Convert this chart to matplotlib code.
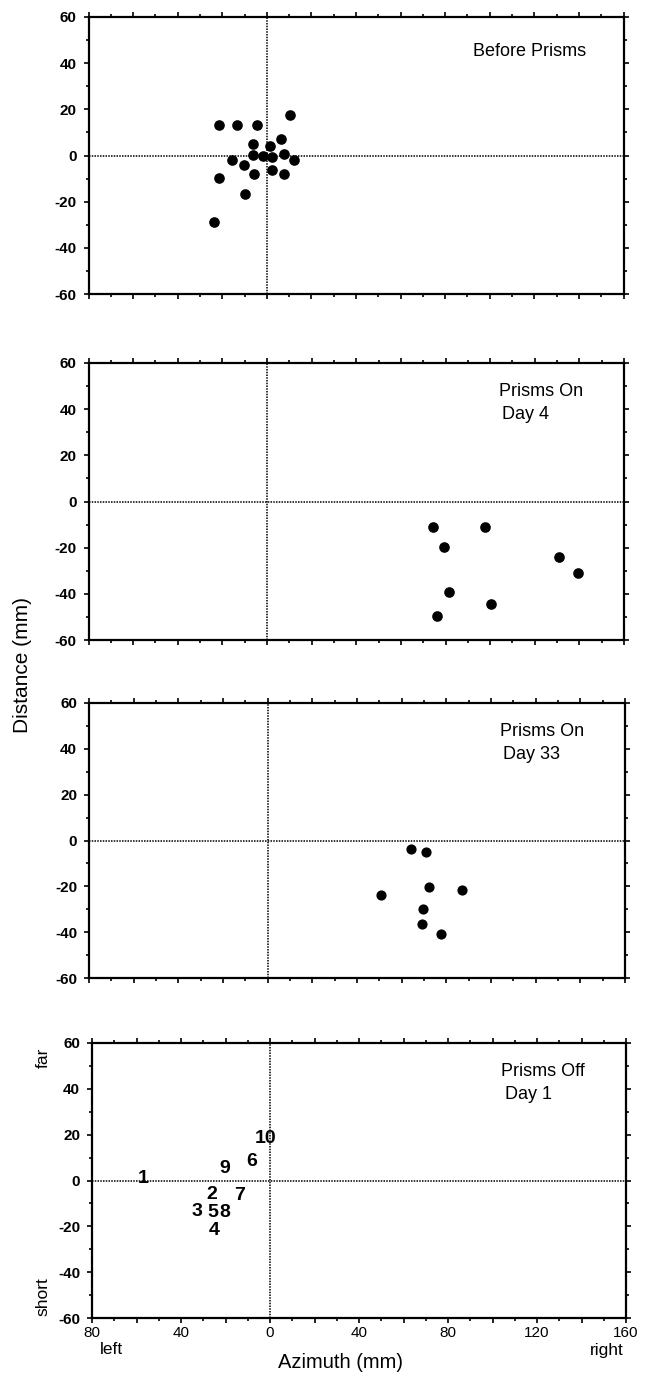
import matplotlib
matplotlib.use('Agg')
import matplotlib.pyplot as plt
from matplotlib.ticker import MultipleLocator, FuncFormatter

plt.rcParams['font.family'] = ['Liberation Sans', 'DejaVu Sans']
plt.rcParams['axes.unicode_minus'] = False

# azimuth: negative = left, positive = right (mm); distance in mm
before_x = [-21.3, -13.2, -4.6, 10.3, 6.2, -6.4, 1.6, -6.4, -1.6, 2.5,
            7.7, -15.8, 12.2, -10.4, -5.7, 2.2, 7.7, -21.3, -9.8, -23.8]
before_y = [13.0, 13.0, 13.0, 17.7, 7.2, 5.1, 4.3, 0.4, 0.0, -0.6,
            0.7, -2.0, -2.0, -4.3, -8.2, -6.3, -8.2, -9.7, -16.7, -28.9]

day4_x = [74.2, 97.8, 79.5, 130.8, 139.6, 81.6, 100.3, 76.0]
day4_y = [-11.1, -11.1, -19.5, -24.2, -31.1, -39.3, -44.2, -49.7]

day33_x = [64.0, 70.8, 72.1, 87.1, 50.6, 69.7, 69.0, 77.8]
day33_y = [-3.6, -4.9, -20.3, -21.6, -23.6, -29.7, -36.3, -41.0]

off_labels = ['1', '2', '3', '4', '5', '6', '7', '8', '9', '10']
off_x = [-56.9, -26.2, -33.0, -25.0, -25.6, -8.2, -13.5, -20.5, -20.2, -2.2]
off_y = [1.0, -5.9, -13.6, -22.0, -13.9, 8.3, -6.6, -13.9, 5.4, 18.3]

W, H = 649, 1375
fig = plt.figure(figsize=(W / 100, H / 100), dpi=100)

# panel boxes in pixels: left, top, right, bottom
boxes = [(88.5, 17, 623.5, 294),
         (88.5, 363, 624, 640),
         (89, 703, 625, 978),
         (92, 1043, 626, 1318)]

axes = []
for (l, t, r, b) in boxes:
    ax = fig.add_axes([l / W, 1 - b / H, (r - l) / W, (b - t) / H])
    ax.set_xlim(-80, 160)
    ax.set_ylim(-60, 60)
    ax.axhline(0, color='black', lw=1.1, ls=(0, (1, 0.8)), zorder=1)
    ax.axvline(0, color='black', lw=1.1, ls=(0, (1, 0.8)), zorder=1)
    ax.xaxis.set_major_locator(MultipleLocator(20))
    ax.xaxis.set_minor_locator(MultipleLocator(10))
    ax.yaxis.set_major_locator(MultipleLocator(20))
    ax.yaxis.set_minor_locator(MultipleLocator(10))
    ax.tick_params(which='both', direction='out', top=True, right=True,
                   width=1.2, labelsize=11)
    ax.tick_params(which='major', length=3.6)
    ax.tick_params(which='minor', length=2.4)
    ax.tick_params(axis='y', pad=5)
    ax.tick_params(axis='x', pad=2.5)
    for s in ax.spines.values():
        s.set_linewidth(1.6)
    for lab in ax.get_yticklabels():
        lab.set_fontweight('bold')
    axes.append(ax)

ax1, ax2, ax3, ax4 = axes
for ax in (ax1, ax2, ax3):
    ax.tick_params(labelbottom=False)

ax4.xaxis.set_major_formatter(FuncFormatter(
    lambda v, p: f"{abs(v):g}" if round(v) % 40 == 0 else ""))

ax1.scatter(before_x, before_y, s=44, color='black', zorder=3)
ax2.scatter(day4_x, day4_y, s=44, color='black', zorder=3)
ax3.scatter(day33_x, day33_y, s=40, color='black', zorder=3)
for lab, x, y in zip(off_labels, off_x, off_y):
    ax4.text(x, y, lab, ha='center', va='center', fontsize=14,
             fontweight='bold', zorder=3)

ax1.text(0.718, 0.859, 'Before Prisms', transform=ax1.transAxes,
         fontsize=13, va='baseline')
for ax, l1, l2 in ((ax2, 'Prisms On', 'Day 4'),
                   (ax3, 'Prisms On', 'Day 33'),
                   (ax4, 'Prisms Off', 'Day 1')):
    ax.text(0.766, 0.881, l1, transform=ax.transAxes, fontsize=13, va='baseline')
    ax.text(0.773, 0.797, l2, transform=ax.transAxes, fontsize=13, va='baseline')

fig.text(23 / W, 1 - 665 / H, 'Distance (mm)', rotation=90, fontsize=15,
         ha='center', va='center')
fig.text(340 / W, 1 - 1363 / H, 'Azimuth (mm)', fontsize=14.5,
         ha='center', va='center')
fig.text(111 / W, 1 - 1349 / H, 'left', fontsize=12.5, ha='center', va='center')
fig.text(607 / W, 1 - 1350 / H, 'right', fontsize=12.5, ha='center', va='center')
fig.text(43 / W, 1 - 1058 / H, 'far', rotation=90, fontsize=12.5,
         ha='center', va='center')
fig.text(43 / W, 1 - 1297 / H, 'short', rotation=90, fontsize=12.5,
         ha='center', va='center')

fig.savefig('out.png', dpi=100)
